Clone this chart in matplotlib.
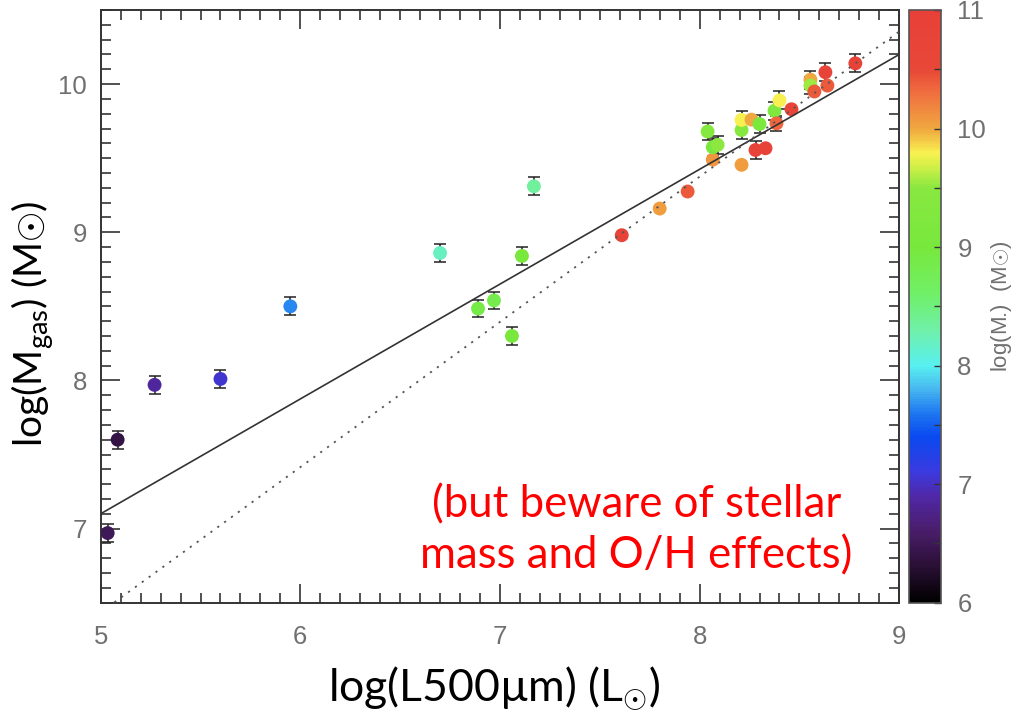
import matplotlib
matplotlib.use('Agg')
import matplotlib.pyplot as plt
import numpy as np
from matplotlib.colors import LinearSegmentedColormap
from matplotlib.ticker import MultipleLocator

plt.rcParams['mathtext.fontset'] = 'custom'
plt.rcParams['mathtext.rm'] = 'Lato'
plt.rcParams['mathtext.it'] = 'Lato:italic'
plt.rcParams['mathtext.fallback'] = 'cm'

# log L500um, log Mgas, error on log Mgas, log M* (colour)
log_l500 = [5.035, 5.085, 5.27, 5.60, 5.95, 6.70, 6.89, 6.97, 7.06, 7.11,
            7.17, 7.61, 7.80, 7.94, 8.066, 8.04, 8.066, 8.09, 8.21, 8.21,
            8.21, 8.26, 8.30, 8.28, 8.33, 8.375, 8.40, 8.385, 8.46, 8.555,
            8.555, 8.575, 8.63, 8.64, 8.78]
log_mgas = [6.97, 7.60, 7.97, 8.01, 8.50, 8.86, 8.485, 8.54, 8.30, 8.84,
            9.31, 8.98, 9.16, 9.275, 9.49, 9.68, 9.574, 9.59, 9.455, 9.69,
            9.758, 9.76, 9.73, 9.555, 9.567, 9.82, 9.89, 9.735, 9.83, 10.03,
            9.99, 9.95, 10.08, 9.99, 10.14]
mgas_err = [0.06, 0.06, 0.06, 0.06, 0.06, 0.06, 0.06, 0.06, 0.06, 0.06,
            0.06, 0.0, 0.0, 0.0, 0.0, 0.06, 0.06, 0.06, 0.0, 0.06,
            0.06, 0.0, 0.06, 0.06, 0.0, 0.06, 0.06, 0.05, 0.0, 0.06,
            0.06, 0.0, 0.06, 0.0, 0.06]
log_mstar = [6.5, 6.4, 6.85, 7.05, 7.65, 8.2, 8.9, 8.85, 9.0, 9.0,
             8.35, 10.8, 10.05, 10.4, 10.1, 9.4, 9.0, 9.5, 10.05, 9.4,
             9.8, 10.0, 9.1, 10.8, 10.8, 9.2, 9.8, 10.35, 10.7, 10.0,
             9.55, 10.4, 10.8, 10.4, 10.9]

# fitted relation (solid) and one-to-one style relation (dotted)
fit_slope, fit_icpt = 0.775, 3.225
dot_slope, dot_icpt = 0.98, 1.535

# rainbow-like colour table for log M*
cnodes = [(6.0, '#000000'), (6.3, '#2a0f35'), (6.6, '#4a1d6a'), (6.9, '#5028a8'),
          (7.1, '#3a3ae0'), (7.4, '#0a4af0'), (7.6, '#1e78f0'), (7.8, '#48b8f0'),
          (8.0, '#58f0f0'), (8.3, '#70f0a8'), (8.6, '#70f068'), (9.0, '#78e83c'),
          (9.5, '#88e840'), (9.7, '#d8f048'), (9.8, '#f8f050'), (10.0, '#f0a840'),
          (10.3, '#f07040'), (10.5, '#e84838'), (11.0, '#e84038')]
cmap = LinearSegmentedColormap.from_list(
    'mstar', [((v - 6.0) / 5.0, c) for v, c in cnodes])

fig = plt.figure(figsize=(10.19, 7.14), dpi=100)
ax = fig.add_axes([0.0988, 0.1559, 0.7837, 0.8301])
cax = fig.add_axes([0.8923, 0.1559, 0.0308, 0.8301])

tick_grey = '#707070'
spine_col = '#333333'

ax.errorbar(log_l500, log_mgas, yerr=mgas_err, fmt='none', ecolor='#222222',
            elinewidth=1.1, capsize=4.5, capthick=1.1, zorder=2)
sc = ax.scatter(log_l500, log_mgas, c=log_mstar, cmap=cmap, vmin=6, vmax=11,
                s=100, edgecolors='none', zorder=3)

xx = np.array([5.0, 9.0])
ax.plot(xx, fit_slope * xx + fit_icpt, color='#333333', lw=1.2, zorder=4)
ax.plot(xx, dot_slope * xx + dot_icpt, color='#555555', lw=1.3,
        linestyle=(0, (1.2, 3.5)), zorder=4)

ax.set_xlim(5, 9)
ax.set_ylim(6.5, 10.5)
ax.xaxis.set_major_locator(MultipleLocator(1))
ax.xaxis.set_minor_locator(MultipleLocator(0.1))
ax.yaxis.set_major_locator(MultipleLocator(1))
ax.yaxis.set_minor_locator(MultipleLocator(0.1))
ax.tick_params(which='both', direction='in', top=True, right=True,
               color=spine_col, width=1.2, labelcolor=tick_grey,
               labelsize=18.5)
ax.tick_params(which='major', length=14, pad=10)
ax.tick_params(which='minor', length=7)
ax.tick_params(axis='x', which='major', pad=16)
for lab in ax.get_xticklabels() + ax.get_yticklabels():
    lab.set_family('Liberation Sans')
for sp in ax.spines.values():
    sp.set_color(spine_col)
    sp.set_linewidth(1.4)

ax.set_xlabel(r'log(L500µm) (L$_{\odot}$)', fontsize=32, family='Lato')
ax.set_ylabel(r'log(M$_{\mathrm{gas}}$) (M$\odot$)', fontsize=28, family='Lato')
ax.xaxis.set_label_coords(0.493, -0.104)
ax.yaxis.set_label_coords(-0.056, 0.470)

ax.text(0.6705, 0.122, '(but beware of stellar\nmass and O/H effects)',
        transform=ax.transAxes, ha='center', va='center', multialignment='center',
        color='#ff0000', fontsize=31.5, family='Lato', linespacing=1.3)

cb = fig.colorbar(sc, cax=cax)
cb.outline.set_edgecolor('#555555')
cb.outline.set_linewidth(1.2)
cb.set_ticks(np.arange(6, 12, 1))
cax.yaxis.set_minor_locator(MultipleLocator(0.5))
cax.tick_params(which='both', direction='in', length=5, width=1.0,
                color='#333333', labelcolor=tick_grey, labelsize=18.5, pad=12)
for lab in cax.get_yticklabels():
    lab.set_family('Liberation Sans')
cb.set_label(r'log(M$_{\bullet}$)  (M$\odot$)', color=tick_grey, fontsize=16,
             family='Liberation Sans', labelpad=2)

fig.savefig('out.png', dpi=100)
